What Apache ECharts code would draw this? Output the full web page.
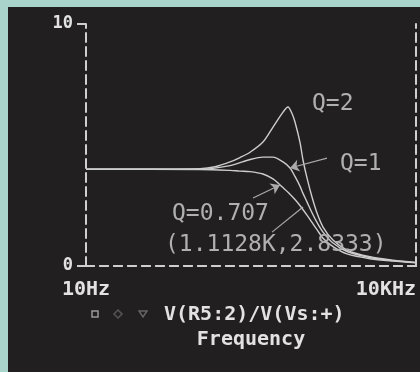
<!DOCTYPE html>
<html><head><meta charset="utf-8">
<script src="https://cdn.jsdelivr.net/npm/echarts@6/dist/echarts.min.js"></script>
<style>html,body{margin:0;padding:0;background:#a8d4cb;}#c{width:420px;height:372px;}</style>
</head><body><div id="c"></div>
<script>
// frequencies (Hz) and gains
const freqQ2 = [10, 38, 109, 149, 204, 251, 310, 406, 501, 618, 686, 746, 794, 881, 939, 1021, 1134, 1259, 1428, 1759, 2359, 3817, 6180, 10000];
const valQ2  = [4.0, 4.0, 4.02, 4.1, 4.3, 4.48, 4.7, 5.12, 5.74, 6.36, 6.57, 6.3, 5.95, 5.12, 4.38, 3.64, 2.85, 2.19, 1.61, 1.07, 0.66, 0.38, 0.24, 0.15];
const freqQ1 = [10, 109, 204, 310, 406, 501, 618, 716, 794, 881, 939, 1021, 1134, 1259, 1428, 1759, 2359, 3817, 6180, 10000];
const valQ1  = [4.0, 4.0, 4.15, 4.4, 4.5, 4.5, 4.3, 4.05, 3.7, 3.3, 3.0, 2.65, 2.2, 1.8, 1.4, 0.95, 0.6, 0.35, 0.22, 0.14];
const freqQ07 = [10, 109, 204, 251, 310, 406, 501, 581, 686, 794, 881, 1021, 1134, 1259, 1428, 1759, 2359, 3817, 6180, 10000];
const valQ07  = [4.0, 3.99, 3.95, 3.92, 3.9, 3.8, 3.6, 3.35, 3.05, 2.75, 2.5, 2.1, 1.8, 1.5, 1.15, 0.8, 0.5, 0.3, 0.2, 0.13];
const xTickLabels = {10: '10Hz', 10000: '10KHz'};
const yTicks = [0, 10];
const traceName = 'V(R5:2)/V(Vs:+)';
const xName = 'Frequency';

const zip = (a, b) => a.map((v, i) => [v, b[i]]);
const curve = '#cdcdcd';
const axisCol = '#cfcfcf';
const mono = 'DejaVu Sans Mono';

const chart = echarts.init(document.getElementById('c'), null, {renderer: 'canvas'});
const lineSeries = (name, data, extra) => Object.assign({
  name, type: 'line', data, showSymbol: false, smooth: 0.3,
  lineStyle: {color: curve, width: 1.4}, animation: false
}, extra || {});

chart.setOption({
  backgroundColor: '#a8d4cb',
  animation: false,
  grid: {left: 86, right: 4, top: 24, bottom: 106},
  xAxis: [{
    type: 'log', logBase: 10, min: 10, max: 10000,
    name: xName, nameLocation: 'middle', nameGap: 64,
    nameTextStyle: {color: '#e2e2e2', fontFamily: mono, fontWeight: 'bold', fontSize: 20},
    axisLine: {lineStyle: {color: axisCol, width: 2, type: [8, 6]}},
    axisTick: {show: false},
    splitLine: {show: false},
    axisLabel: {
      color: '#e2e2e2', fontFamily: mono, fontWeight: 'bold', fontSize: 20, margin: 14,
      formatter: v => xTickLabels[Math.round(v)] || '',
      showMinLabel: true, showMaxLabel: true, alignMaxLabel: 'right'
    }
  }, {
    type: 'log', logBase: 10, min: 10, max: 10000, position: 'top',
    axisLine: {lineStyle: {color: axisCol, width: 2, type: [8, 6]}},
    axisTick: {show: false}, axisLabel: {show: false}, splitLine: {show: false}
  }],
  yAxis: [{
    type: 'value', min: yTicks[0], max: yTicks[1], interval: 10,
    axisLine: {show: true, lineStyle: {color: axisCol, width: 2, type: [9, 5]}},
    axisTick: {show: true, length: 9, lineStyle: {color: axisCol, width: 2}},
    splitLine: {show: false},
    axisLabel: {color: '#e2e2e2', fontFamily: mono, fontWeight: 'bold', fontSize: 17, margin: 13}
  }, {
    type: 'value', min: yTicks[0], max: yTicks[1], position: 'right',
    axisLine: {show: true, lineStyle: {color: axisCol, width: 2, type: [9, 5]}},
    axisTick: {show: false}, axisLabel: {show: false}, splitLine: {show: false}
  }],
  graphic: [
    {type: 'rect', z: -10, silent: true, shape: {x: 8, y: 7, width: 412, height: 365}, style: {fill: '#221f20'}},
    {type: 'text', z: 10, x: 312, y: 104, style: {text: 'Q=2', fill: '#b0b0b0', font: '23px "DejaVu Sans Mono"', verticalAlign: 'middle'}},
    {type: 'text', z: 10, x: 340, y: 164, style: {text: 'Q=1', fill: '#b0b0b0', font: '23px "DejaVu Sans Mono"', verticalAlign: 'middle'}},
    {type: 'text', z: 10, x: 172, y: 214, style: {text: 'Q=0.707', fill: '#b0b0b0', font: '23px "DejaVu Sans Mono"', verticalAlign: 'middle'}},
    {type: 'text', z: 10, x: 165, y: 245, style: {text: '(1.1128K,2.8333)', fill: '#b0b0b0', font: '23px "DejaVu Sans Mono"', verticalAlign: 'middle'}},
    {type: 'rect', z: 10, shape: {x: 92, y: 311, width: 6, height: 6}, style: {fill: 'none', stroke: '#9a9a9a', lineWidth: 1.5}},
    {type: 'polygon', z: 10, shape: {points: [[118, 310], [122, 314], [118, 318], [114, 314]]}, style: {fill: 'none', stroke: '#555', lineWidth: 1.5}},
    {type: 'polygon', z: 10, shape: {points: [[139, 311], [147, 311], [143, 317]]}, style: {fill: 'none', stroke: '#666', lineWidth: 1.5}},
    {type: 'text', z: 10, x: 164, y: 315, style: {text: traceName, fill: '#e2e2e2', font: 'bold 20px "DejaVu Sans Mono"', verticalAlign: 'middle'}}
  ],
  series: [
    lineSeries('Q=0.707', zip(freqQ07, valQ07), {
      markLine: {
        silent: true, animation: false, symbol: ['none', 'none'], label: {show: false},
        lineStyle: {color: '#aaa', width: 1.2, type: 'solid'},
        data: [[{coord: [491, 1.4]}, {coord: [940, 2.44]}]]
      }
    }),
    lineSeries('Q=1', zip(freqQ1, valQ1), {
      markLine: {
        silent: true, animation: false, symbol: ['none', 'arrow'], symbolSize: 9, label: {show: false},
        lineStyle: {color: '#aaa', width: 1.2, type: 'solid'},
        data: [[{coord: [1552, 4.46]}, {coord: [716, 4.05]}], [{coord: [330, 2.81]}, {coord: [581, 3.35]}]]
      }
    }),
    lineSeries('Q=2', zip(freqQ2, valQ2))
  ]
});
</script></body></html>
